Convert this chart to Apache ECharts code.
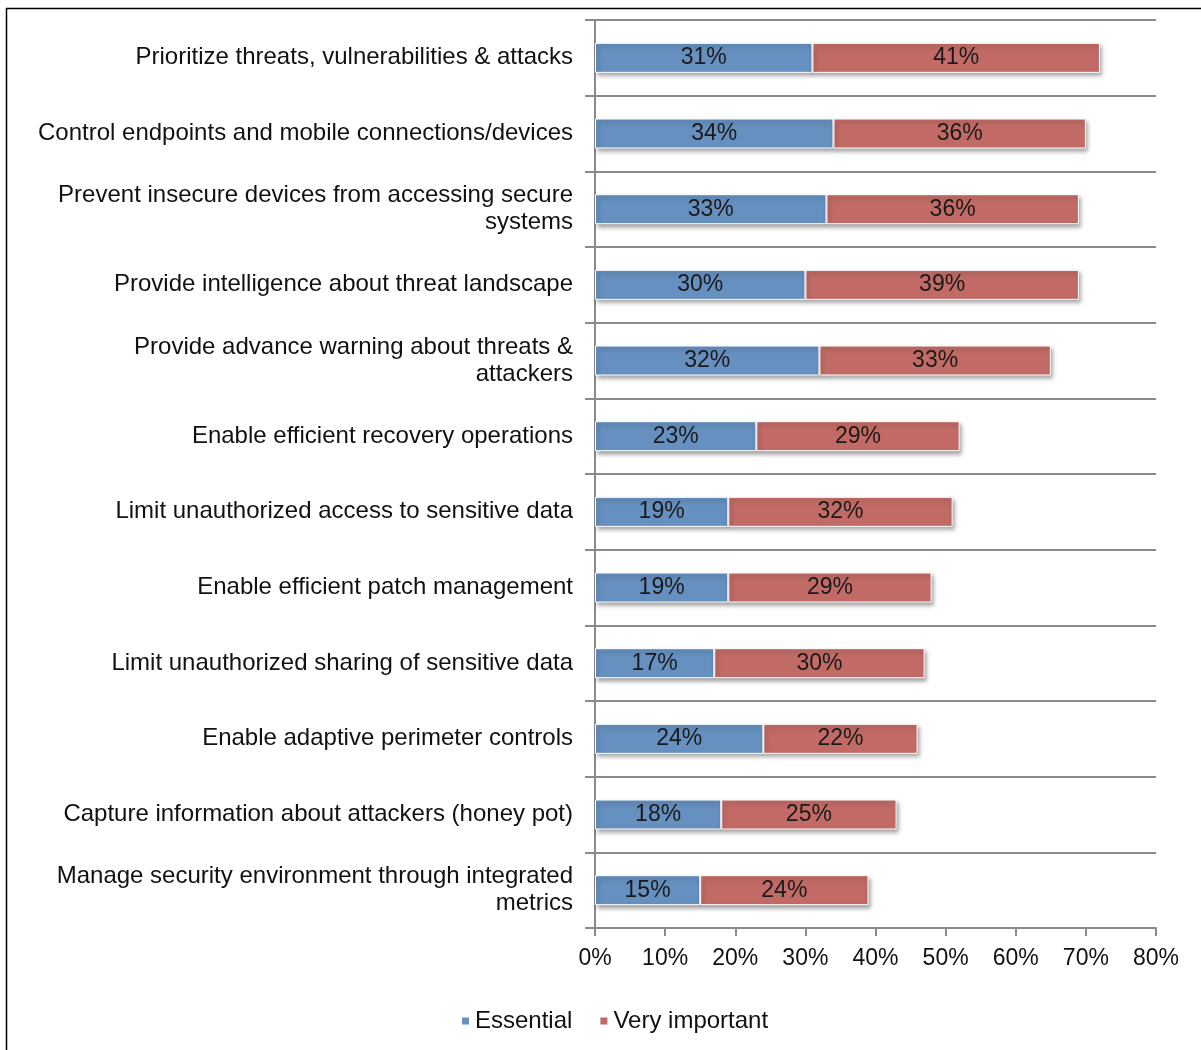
<!DOCTYPE html>
<html>
<head>
<meta charset="utf-8">
<script src="https://cdn.jsdelivr.net/npm/echarts@6/dist/echarts.min.js"></script>
<style>html,body{margin:0;padding:0;background:#fff;}#c{width:1201px;height:1050px;}</style>
</head>
<body>
<div id="c"></div>
<script>
var categories = [
  'Prioritize threats, vulnerabilities & attacks',
  'Control endpoints and mobile connections/devices',
  'Prevent insecure devices from accessing secure\nsystems',
  'Provide intelligence about threat landscape',
  'Provide advance warning about threats &\nattackers',
  'Enable efficient recovery operations',
  'Limit unauthorized access to sensitive data',
  'Enable efficient patch management',
  'Limit unauthorized sharing of sensitive data',
  'Enable adaptive perimeter controls',
  'Capture information about attackers (honey pot)',
  'Manage security environment through integrated\nmetrics'
];
var essential = [31, 34, 33, 30, 32, 23, 19, 19, 17, 24, 18, 15];
var veryImportant = [41, 36, 36, 39, 33, 29, 32, 29, 30, 22, 25, 24];
var seriesNames = ['Essential', 'Very important'];
var xTicks = [0, 10, 20, 30, 40, 50, 60, 70, 80];

var chart = echarts.init(document.getElementById('c'));
var font = 'Liberation Sans, Arial, sans-serif';
function barSeries(name, data, color) {
  return {
    name: name, type: 'bar', stack: 'total', data: data, barWidth: 30,
    itemStyle: { color: color, borderColor: '#ffffff', borderWidth: 1,
      shadowBlur: 4, shadowOffsetX: 2, shadowOffsetY: 3, shadowColor: 'rgba(0,0,0,0.35)' },
    label: { show: true, position: 'inside', formatter: '{c}%', color: '#1a1a1a',
      fontFamily: font, fontSize: 23 }
  };
}
chart.setOption({
  backgroundColor: '#ffffff',
  animation: false,
  grid: { left: 595, right: 45, top: 20, bottom: 122 },
  legend: {
    data: seriesNames, left: 455, top: 1004, icon: 'rect', itemWidth: 9, itemHeight: 9, itemGap: 26,
    textStyle: { fontFamily: font, fontSize: 24, color: '#111' }
  },
  xAxis: {
    type: 'value', min: xTicks[0], max: xTicks[xTicks.length - 1], interval: 10,
    axisLine: { show: true, lineStyle: { color: '#8a8a8a', width: 2 } },
    axisTick: { show: true, length: 8, lineStyle: { color: '#8a8a8a', width: 2 } },
    splitLine: { show: false },
    axisLabel: { formatter: '{value}%', fontFamily: font, fontSize: 23, color: '#111', margin: 19 }
  },
  yAxis: {
    type: 'category', data: categories, inverse: true,
    axisLine: { show: true, lineStyle: { color: '#8a8a8a', width: 2 } },
    axisTick: { show: true, length: 10, lineStyle: { color: '#8a8a8a', width: 2 } },
    splitLine: { show: true, lineStyle: { color: '#8a8a8a', width: 2 } },
    axisLabel: { fontFamily: font, fontSize: 24, color: '#111', margin: 22, lineHeight: 27, align: 'right' }
  },
  graphic: [{
    type: 'rect', shape: { x: 6.5, y: 8.5, width: 1210, height: 1060 },
    style: { fill: 'none', stroke: '#000', lineWidth: 1.5 }, silent: true
  }],
  series: [
    barSeries(seriesNames[0], essential, '#6690bf'),
    barSeries(seriesNames[1], veryImportant, '#c26b66')
  ]
});
</script>
</body>
</html>
